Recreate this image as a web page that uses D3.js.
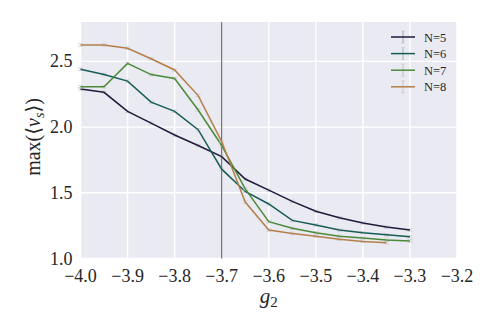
<!DOCTYPE html>
<html>
<head>
<meta charset="utf-8">
<script src="https://cdn.jsdelivr.net/npm/d3@7"></script>
<style>
  body { margin: 0; background: #fff; }
</style>
</head>
<body>
<div id="chart"></div>
<script>
// coupling values g2
const g2 = [-4.0, -3.95, -3.9, -3.85, -3.8, -3.75, -3.7, -3.65, -3.6, -3.55, -3.5, -3.45, -3.4, -3.35, -3.3];

const seriesNames = ["N=5", "N=6", "N=7", "N=8"];
const seriesColors = ["#1d1a3c", "#175c55", "#4b8a38", "#b57f4a"];

// max(<v_s>) per system size (N=8 has no point at -3.3)
const n5 = [2.29, 2.265, 2.12, 2.03, 1.94, 1.86, 1.775, 1.605, 1.52, 1.435, 1.36, 1.31, 1.27, 1.24, 1.217];
const n6 = [2.44, 2.40, 2.35, 2.19, 2.12, 1.98, 1.68, 1.51, 1.415, 1.29, 1.255, 1.217, 1.196, 1.18, 1.166];
const n7 = [2.307, 2.307, 2.485, 2.40, 2.37, 2.13, 1.86, 1.53, 1.28, 1.23, 1.196, 1.17, 1.156, 1.14, 1.133];
const n8 = [2.625, 2.625, 2.60, 2.52, 2.435, 2.24, 1.89, 1.43, 1.217, 1.19, 1.17, 1.146, 1.13, 1.12];

const xTicks = [-4.0, -3.9, -3.8, -3.7, -3.6, -3.5, -3.4, -3.3, -3.2];
const yTicks = [1.0, 1.5, 2.0, 2.5];
const vLineAt = -3.7;

const serif = "Liberation Serif, DejaVu Serif, serif";

const allSeries = [n5, n6, n7, n8].map((vals, i) => ({
    name: seriesNames[i],
    color: seriesColors[i],
    points: vals.map((v, j) => ({ x: g2[j], y: v }))
}));

const W = 498, H = 332;
const margin = { top: 22, right: 41, bottom: 73.5, left: 80.5 };
const width = W - margin.left - margin.right;
const height = H - margin.top - margin.bottom;

const svg = d3.select("#chart").append("svg")
    .attr("width", W).attr("height", H)
    .attr("font-family", serif);

const g = svg.append("g")
    .attr("transform", `translate(${margin.left},${margin.top})`);

const x = d3.scaleLinear().domain([-4.0, -3.2]).range([0, width]);
const y = d3.scaleLinear().domain([1.0, 2.8]).range([height, 0]);

g.append("rect").attr("width", width).attr("height", height).attr("fill", "#eaeaf2");

// grid
g.selectAll(".vgrid").data(xTicks).enter().append("line")
    .attr("x1", d => x(d)).attr("x2", d => x(d))
    .attr("y1", 0).attr("y2", height)
    .attr("stroke", "#fff").attr("stroke-width", 1.4);
g.selectAll(".hgrid").data(yTicks).enter().append("line")
    .attr("x1", 0).attr("x2", width)
    .attr("y1", d => y(d)).attr("y2", d => y(d))
    .attr("stroke", "#fff").attr("stroke-width", 1.4);

// tick labels
const fmt = d => d3.format(".1f")(d).replace("-", "\u2212");
g.selectAll(".xt").data(xTicks).enter().append("text")
    .attr("x", d => x(d)).attr("y", height + 23)
    .attr("text-anchor", "middle")
    .attr("font-size", 18).attr("fill", "#262626")
    .text(fmt);
g.selectAll(".yt").data(yTicks).enter().append("text")
    .attr("x", -8).attr("y", d => y(d) + 6)
    .attr("text-anchor", "end")
    .attr("font-size", 18).attr("fill", "#262626")
    .text(fmt);

// vertical marker line
g.append("line")
    .attr("x1", x(vLineAt)).attr("x2", x(vLineAt))
    .attr("y1", 0).attr("y2", height)
    .attr("stroke", "#555").attr("stroke-width", 1);

const line = d3.line().x(d => x(d.x)).y(d => y(d.y));

allSeries.forEach(s => {
    // faint error bar caps
    [-1.2, 1.2].forEach(off => {
        g.selectAll(null).data(s.points).enter().append("line")
            .attr("x1", d => x(d.x) - 2.5).attr("x2", d => x(d.x) + 2.5)
            .attr("y1", d => y(d.y) + off).attr("y2", d => y(d.y) + off)
            .attr("stroke", "#c8c8cc").attr("stroke-width", 0.8);
    });
    g.append("path").datum(s.points)
        .attr("d", line)
        .attr("fill", "none")
        .attr("stroke", s.color)
        .attr("stroke-width", 1.5);
});

// legend
const legend = g.append("g").attr("transform", `translate(${width - 66},15)`);
allSeries.forEach((s, i) => {
    const row = legend.append("g").attr("transform", `translate(0,${i * 16.6})`);
    row.append("line").attr("x1", 12).attr("x2", 12).attr("y1", -6).attr("y2", 6)
        .attr("stroke", s.color).attr("stroke-opacity", 0.35).attr("stroke-width", 1);
    row.append("line").attr("x1", 10).attr("x2", 14).attr("y1", -6).attr("y2", -6)
        .attr("stroke", "#ccc").attr("stroke-width", 0.8);
    row.append("line").attr("x1", 10).attr("x2", 14).attr("y1", 6).attr("y2", 6)
        .attr("stroke", "#ccc").attr("stroke-width", 0.8);
    row.append("line").attr("x1", 0).attr("x2", 24).attr("y1", 0).attr("y2", 0)
        .attr("stroke", s.color).attr("stroke-width", 1.5);
    row.append("text").attr("x", 33).attr("y", 4.5)
        .attr("font-size", 12.5).attr("fill", "#262626")
        .text(s.name);
});

// axis labels
const ylab = svg.append("text")
    .attr("transform", "translate(40,137) rotate(-90)")
    .attr("text-anchor", "middle")
    .attr("font-size", 20).attr("fill", "#262626");
ylab.append("tspan").text("max(\u27E8");
ylab.append("tspan").style("font-style", "italic").text("v");
ylab.append("tspan").style("font-style", "italic").attr("font-size", 14).attr("dy", 4).text("s");
ylab.append("tspan").attr("dy", -4).text("\u27E9)");

const xlab = svg.append("text")
    .attr("x", margin.left + x(-3.6)).attr("y", 303)
    .attr("text-anchor", "middle")
    .attr("font-size", 21).attr("fill", "#262626");
xlab.append("tspan").style("font-style", "italic").text("g");
xlab.append("tspan").attr("font-size", 15).attr("dy", 4).text("2");
</script>
</body>
</html>
